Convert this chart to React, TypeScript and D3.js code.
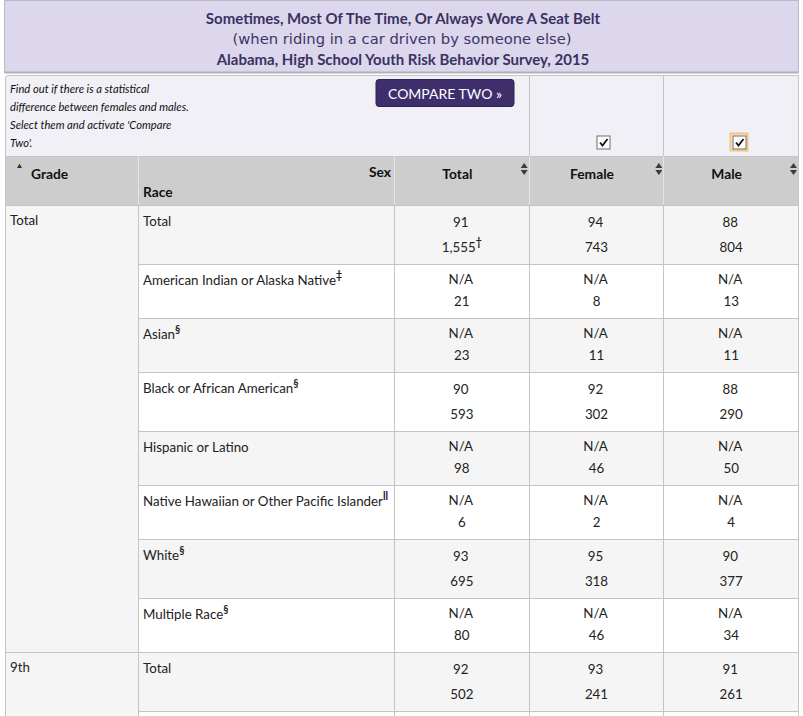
import React from "react";
import * as d3 from "d3";

// ---------- data ----------
const titleLines = [
  "Sometimes, Most Of The Time, Or Always Wore A Seat Belt",
  "(when riding in a car driven by someone else)",
  "Alabama, High School Youth Risk Behavior Survey, 2015",
];
const introLines = [
  "Find out if there is a statistical",
  "difference between females and males.",
  "Select them and activate 'Compare",
  "Two'.",
];
const sexColumns = ["Total", "Female", "Male"];
const grades = ["Total", "Total", "Total", "Total", "Total", "Total", "Total", "Total", "9th", "9th"];
const races = [
  "Total",
  "American Indian or Alaska Native",
  "Asian",
  "Black or African American",
  "Hispanic or Latino",
  "Native Hawaiian or Other Pacific Islander",
  "White",
  "Multiple Race",
  "Total",
  "",
];
const raceMarks = ["", "‡", "§", "§", "", "ll", "§", "§", "", ""];
const totalPct = ["91", "N/A", "N/A", "90", "N/A", "N/A", "93", "N/A", "92", ""];
const totalN = ["1,555", "21", "23", "593", "98", "6", "695", "80", "502", ""];
const totalNMarks = ["†", "", "", "", "", "", "", "", "", ""];
const femalePct = ["94", "N/A", "N/A", "92", "N/A", "N/A", "95", "N/A", "93", ""];
const femaleN = ["743", "8", "11", "302", "46", "2", "318", "46", "241", ""];
const malePct = ["88", "N/A", "N/A", "88", "N/A", "N/A", "90", "N/A", "91", ""];
const maleN = ["804", "13", "11", "290", "50", "4", "377", "34", "261", ""];

const pctBySex = [totalPct, femalePct, malePct];
const nBySex = [totalN, femaleN, maleN];
const nMarksBySex = [totalNMarks, ["", "", "", "", "", "", "", "", "", ""], ["", "", "", "", "", "", "", "", "", ""]];

// ---------- layout ----------
const W = 803;
const H = 716;
const FONT = "Lato, 'Open Sans', sans-serif";
const LEFT = 5;
const RIGHT = 798;
const GRADE_R = 138;
const RACE_R = 394;
const HEAD_TOP = 156;
const HEAD_BOT = 205;
const GRID = "#c4c4c4";
const TXT = "#222";
const FS = 13.33;

export default function App() {
  const x = d3.scaleBand<string>().domain(sexColumns).range([RACE_R, RIGHT]);
  const heights = totalPct.map((p, i) => (i === totalPct.length - 1 ? 60 : p === "N/A" ? 54 : 59));
  const cum = Array.from(d3.cumsum(heights));
  const y = d3.scaleLinear().domain([0, 1]).range([HEAD_BOT, HEAD_BOT + 1]);
  const rowTop = (i: number) => y(0) + (i === 0 ? 0 : cum[i - 1]);

  // grade groups
  const gradeGroups: { g: string; start: number; end: number }[] = [];
  grades.forEach((g, i) => {
    const last = gradeGroups[gradeGroups.length - 1];
    if (last && last.g === g) last.end = i;
    else gradeGroups.push({ g, start: i, end: i });
  });

  const check = (cx: number, cy: number) => (
    <g>
      <rect x={cx} y={cy} width={13} height={13} fill="#fff" stroke="#6d6d6d" strokeWidth={1} />
      <path d={`M${cx + 3},${cy + 6.5} L${cx + 5.5},${cy + 9.5} L${cx + 10.5},${cy + 3}`} fill="none" stroke="#111" strokeWidth={1.8} />
    </g>
  );

  const sortArrows = (xr: number) => (
    <g fill="#3a3a3a">
      <path d={`M${xr - 8},${168} L${xr - 4.5},${163} L${xr - 1},${168} Z`} />
      <path d={`M${xr - 8},${170} L${xr - 4.5},${175} L${xr - 1},${170} Z`} />
    </g>
  );

  return (
    <svg
      width={W}
      height={H}
      style={{ position: "absolute", left: 0, top: 0, background: "#fff" }}
      fontFamily={FONT}
    >
      {/* title */}
      <rect x={4.5} y={0.5} width={794} height={72} fill="#dcd7ec" stroke="#b9b9c4" />
      <line x1={4.5} x2={798.5} y1={72.5} y2={72.5} stroke="#b0b0b8" strokeWidth={2} />
      <text x={403} y={18} textAnchor="middle" dominantBaseline="central" fontSize={15} fontWeight={700} fill="#3a3263">
        {titleLines[0]}
      </text>
      <text x={402} y={39} textAnchor="middle" dominantBaseline="central" fontSize={14} fontFamily="'DejaVu Sans', sans-serif" fill="#3d3566" textLength={339} lengthAdjust="spacingAndGlyphs">
        {titleLines[1]}
      </text>
      <text x={403} y={59} textAnchor="middle" dominantBaseline="central" fontSize={15} fontWeight={700} fill="#3a3263">
        {titleLines[2]}
      </text>

      {/* compare area */}
      <path d={`M${LEFT + 0.5},${HEAD_TOP} L${LEFT + 0.5},${78} Q${LEFT + 0.5},${75.5} ${LEFT + 3},${75.5} L${RIGHT + 0.5},${75.5} L${RIGHT + 0.5},${HEAD_TOP}`} fill="#f1f0f6" stroke={GRID} />
      {introLines.map((t, i) => (
        <text key={i} x={10} y={88 + i * 18} dominantBaseline="central" fontSize={11.2} fontStyle="italic" fill="#111">
          {t}
        </text>
      ))}
      <rect x={376} y={79.5} width={138} height={27} rx={3} fill="#3e2f6c" stroke="#2e2354" />
      <text x={445} y={93.5} textAnchor="middle" dominantBaseline="central" fontSize={14} fill="#fff">
        COMPARE TWO »
      </text>
      {[x("Female")!, x("Male")!].map((v, i) => (
        <line key={i} x1={Math.round(v) + 0.5} x2={Math.round(v) + 0.5} y1={75} y2={HEAD_TOP} stroke={GRID} />
      ))}
      {check(597, 136)}
      <rect x={730.5} y={133.5} width={17} height={17} fill="none" stroke="#f5c678" strokeWidth={2} />
      {check(733, 136)}

      {/* header */}
      <rect x={LEFT} y={HEAD_TOP} width={RIGHT - LEFT + 1} height={HEAD_BOT - HEAD_TOP} fill="#cdcdcd" />
      <line x1={LEFT} x2={RIGHT + 1} y1={HEAD_TOP + 0.5} y2={HEAD_TOP + 0.5} stroke={GRID} />
      {[GRADE_R, RACE_R, x("Female")!, x("Male")!].map((v, i) => (
        <line key={i} x1={Math.round(v) + 0.5} x2={Math.round(v) + 0.5} y1={HEAD_TOP} y2={HEAD_BOT} stroke="#e4e4e4" />
      ))}
      <line x1={LEFT + 0.5} x2={LEFT + 0.5} y1={HEAD_TOP} y2={HEAD_BOT} stroke={GRID} />
      <line x1={RIGHT + 0.5} x2={RIGHT + 0.5} y1={HEAD_TOP} y2={HEAD_BOT} stroke={GRID} />
      <path d="M17,168 L19.5,163.5 L22,168 Z" fill="#333" />
      <text x={31} y={173} dominantBaseline="central" fontSize={13.8} fontWeight={700} fill="#111">Grade</text>
      <text x={391} y={171} textAnchor="end" dominantBaseline="central" fontSize={13.8} fontWeight={700} fill="#111">Sex</text>
      <text x={143} y={191} dominantBaseline="central" fontSize={13.8} fontWeight={700} fill="#111">Race</text>
      {sexColumns.map((c) => (
        <g key={c}>
          <text x={x(c)! + x.bandwidth() / 2 - 4} y={173} textAnchor="middle" dominantBaseline="central" fontSize={13.8} fontWeight={700} fill="#111">
            {c}
          </text>
          {sortArrows(x(c)! + x.bandwidth())}
        </g>
      ))}

      {/* data rows */}
      {races.map((r, i) => {
        const top = rowTop(i);
        const h = heights[i];
        const na = totalPct[i] === "N/A";
        return (
          <g key={i}>
            <rect x={GRADE_R} y={top} width={RIGHT - GRADE_R + 1} height={h} fill={i % 2 === 0 ? "#f5f5f5" : "#ffffff"} />
            <line x1={GRADE_R} x2={RIGHT + 1} y1={top + 0.5} y2={top + 0.5} stroke={GRID} />
            <text x={143} y={top + 16} dominantBaseline="central" fontSize={FS} fill={TXT}>
              {r}
              {raceMarks[i] && (
                <tspan dy={-5} fontSize={10.5} fontWeight={700}>{raceMarks[i]}</tspan>
              )}
            </text>
            {sexColumns.map((c, k) => {
              const cx = x(c)! + x.bandwidth() / 2 - 0.5;
              return (
                <g key={c}>
                  <text x={cx} y={top + (na ? 15 : 17)} textAnchor="middle" dominantBaseline="central" fontSize={FS} fill={TXT}>
                    {pctBySex[k][i]}
                  </text>
                  <text x={cx + 1} y={top + (na ? 37 : 42)} textAnchor="middle" dominantBaseline="central" fontSize={FS} fill={TXT}>
                    {nBySex[k][i]}
                    {nMarksBySex[k][i] && (
                      <tspan dy={-5} fontSize={10.5} fontWeight={700}>{nMarksBySex[k][i]}</tspan>
                    )}
                  </text>
                </g>
              );
            })}
          </g>
        );
      })}

      {/* grade cells */}
      {gradeGroups.map((g, i) => {
        const top = rowTop(g.start);
        const bot = rowTop(g.end) + heights[g.end];
        return (
          <g key={i}>
            <rect x={LEFT} y={top} width={GRADE_R - LEFT} height={bot - top} fill="#f5f5f5" />
            <line x1={LEFT} x2={GRADE_R} y1={top + 0.5} y2={top + 0.5} stroke={GRID} />
            <text x={10} y={top + 15} dominantBaseline="central" fontSize={FS} fill={TXT}>{g.g}</text>
          </g>
        );
      })}

      {/* vertical grid */}
      {[LEFT, GRADE_R, RACE_R, x("Female")!, x("Male")!, RIGHT].map((v, i) => (
        <line key={i} x1={Math.round(v) + 0.5} x2={Math.round(v) + 0.5} y1={HEAD_BOT} y2={H} stroke={GRID} />
      ))}
    </svg>
  );
}
